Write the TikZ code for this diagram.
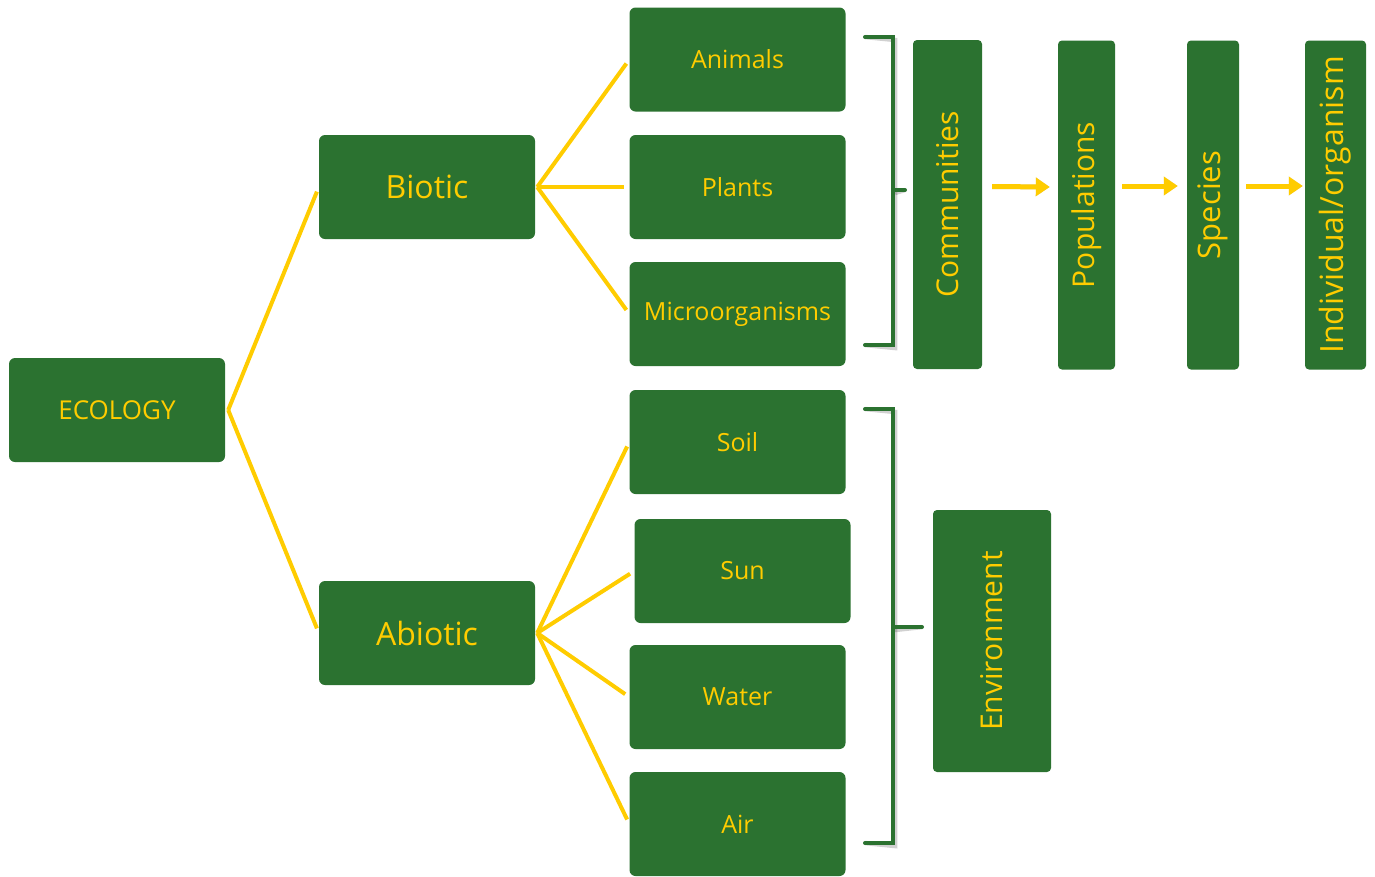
\documentclass[tikz,border=0pt]{standalone}
\usepackage{fontspec}
\setmainfont{Open Sans}
\usetikzlibrary{arrows.meta}
\definecolor{bx}{HTML}{2B7230}
\definecolor{yl}{HTML}{FFCC00}
\begin{document}
\begin{tikzpicture}[x=1pt,y=-1pt,
  box/.style={rectangle, rounded corners=6pt, fill=bx, text=yl, inner sep=0pt,
    minimum width=216pt, minimum height=104pt},
  vbox/.style={rectangle, rounded corners=4pt, fill=bx, text=yl, inner sep=0pt,
    rotate=90, minimum width=329pt, font=\fontsize{30}{34}\selectfont},
  fs/.style={font=\fontsize{#1}{#1}\selectfont},
  link/.style={draw=yl, line width=4pt, shorten >=5pt},
  brk/.style={draw=bx, line width=4pt, line cap=round, line join=miter},
  brkshadow/.style={draw=black, opacity=0.18, line width=4.5pt},
  arr/.style={draw=yl, line width=5pt, -{Triangle[length=14pt,width=18pt]}},
  arrshadow/.style={draw=black, opacity=0.12, line width=5pt, -{Triangle[length=14pt,width=18pt]}}]
\useasboundingbox (0,0) rectangle (1375,876);

% boxes
\node[box, fs=26] (eco) at (117,410) {ECOLOGY};
\node[box, fs=32] (bio) at (427,187) {Biotic};
\node[box, fs=32] (abio) at (427,633) {Abiotic};
\node[box, fs=25] (ani) at (737.5,59.5) {Animals};
\node[box, fs=25] (pla) at (737.5,187) {Plants};
\node[box, fs=25] (mic) at (737.5,314) {Microorganisms};
\node[box, fs=25] (soil) at (737.5,442) {Soil};
\node[box, fs=25] (sun) at (742.5,571) {Sun};
\node[box, fs=25] (wat) at (737.5,697) {Water};
\node[box, fs=25] (air) at (737.5,824) {Air};

\node[vbox, minimum height=69pt] (com) at (947.5,204.5) {Communities};
\node[vbox, minimum height=57pt] (pop) at (1086.5,205) {Populations};
\node[vbox, minimum height=52pt, fs=31] (spe) at (1213,205) {Species};
\node[vbox, minimum height=61pt, fs=32] (ind) at (1335.5,205) {Individual/organism};
\node[vbox, minimum width=262pt, minimum height=118pt] (env) at (992,641) {Environment};

% yellow links
\draw[link] ([xshift=3pt]eco.east) -- (bio.west);
\draw[link] ([xshift=3pt]eco.east) -- (abio.west);
\draw[link] ([xshift=2pt]bio.east) -- (ani.west);
\draw[link] ([xshift=2pt]bio.east) -- (pla.west);
\draw[link] ([xshift=2pt]bio.east) -- (mic.west);
\draw[link] ([xshift=2pt]abio.east) -- (soil.west);
\draw[link] ([xshift=2pt]abio.east) -- (sun.west);
\draw[link] ([xshift=2pt]abio.east) -- (wat.west);
\draw[link] ([xshift=2pt]abio.east) -- (air.west);

% brackets
\coordinate (b1a) at (865,37);
\coordinate (b1b) at (865,345);
\coordinate (b1m) at (905,190);
\coordinate (b2a) at (865,409);
\coordinate (b2b) at (865,843);
\coordinate (b2m) at (922,627);
\begin{scope}[shift={(2,3)}]
\draw[brkshadow] (b1a) -- (893,37) -- (893,345) -- (b1b);
\draw[brkshadow] (893,190) -- (b1m);
\draw[brkshadow] (b2a) -- (893,409) -- (893,843) -- (b2b);
\draw[brkshadow] (893,627) -- (b2m);
\end{scope}
\draw[brk] (b1a) -- (893,37) -- (893,345) -- (b1b);
\draw[brk] (893,190) -- (b1m);
\draw[brk] (b2a) -- (893,409) -- (893,843) -- (b2b);
\draw[brk] (893,627) -- (b2m);

% arrows
\begin{scope}[shift={(2,3)}]
\draw[arrshadow] ([xshift=10pt,yshift=18pt]com.south) -- ([xshift=-8pt,yshift=18pt]pop.north);
\draw[arrshadow] ([xshift=7pt,yshift=19pt]pop.south) -- ([xshift=-9pt,yshift=19pt]spe.north);
\draw[arrshadow] ([xshift=7pt,yshift=19pt]spe.south) -- ([xshift=-2pt,yshift=19pt]ind.north);
\end{scope}
\draw[arr] ([xshift=10pt,yshift=18pt]com.south) -- ([xshift=-8pt,yshift=18pt]pop.north);
\draw[arr] ([xshift=7pt,yshift=19pt]pop.south) -- ([xshift=-9pt,yshift=19pt]spe.north);
\draw[arr] ([xshift=7pt,yshift=19pt]spe.south) -- ([xshift=-2pt,yshift=19pt]ind.north);
\end{tikzpicture}
\end{document}
